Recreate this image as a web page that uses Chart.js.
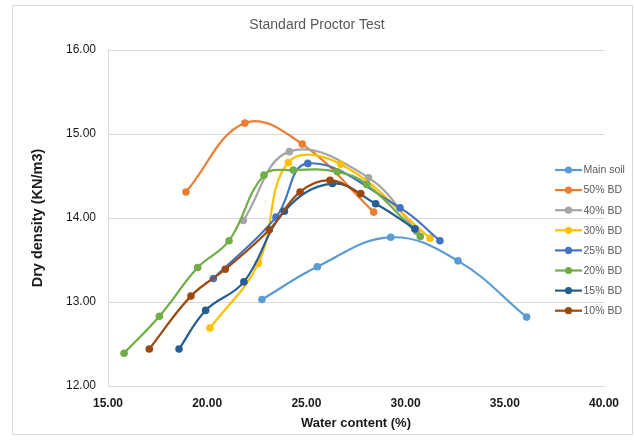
<!DOCTYPE html>
<html>
<head>
<meta charset="utf-8">
<script src="https://cdn.jsdelivr.net/npm/chart.js@4"></script>
<style>
  html, body { margin: 0; padding: 0; background: #ffffff; }
  #wrap { width: 635px; height: 441px; position: relative; }
</style>
</head>
<body>
<div id="wrap"><canvas id="c" width="635" height="441"></canvas></div>
<script>
// ---- Data ----
const seriesNames = ['Main soil', '50% BD', '40% BD', '30% BD', '25% BD', '20% BD', '15% BD', '10% BD'];

const mainSoilX = [22.76, 25.55, 29.25, 32.64, 36.10];
const mainSoilY = [13.03, 13.42, 13.77, 13.49, 12.82];

const bd50X = [18.93, 21.90, 24.79, 28.39];
const bd50Y = [14.31, 15.13, 14.88, 14.07];

const bd40X = [21.82, 24.14, 28.13, 30.56];
const bd40Y = [13.97, 14.79, 14.48, 13.84];

const bd30X = [20.14, 22.58, 24.09, 26.73, 31.23];
const bd30Y = [12.69, 13.46, 14.66, 14.64, 13.76];

const bd25X = [20.31, 23.47, 25.07, 29.72, 31.73];
const bd25Y = [13.28, 14.01, 14.65, 14.12, 13.73];

const bd20X = [15.81, 17.59, 19.52, 21.10, 22.86, 24.34, 26.56, 28.04, 30.74];
const bd20Y = [12.39, 12.83, 13.41, 13.73, 14.51, 14.57, 14.55, 14.40, 13.78];

const bd15X = [18.58, 19.92, 21.85, 23.89, 26.31, 28.49, 30.47];
const bd15Y = [12.44, 12.90, 13.24, 14.08, 14.41, 14.17, 13.87];

const bd10X = [17.08, 19.18, 20.91, 23.13, 24.68, 26.19, 27.74];
const bd10Y = [12.44, 13.07, 13.39, 13.86, 14.31, 14.45, 14.29];

const xTickLabels = ['15.00', '20.00', '25.00', '30.00', '35.00', '40.00'];
const yTickLabels = ['12.00', '13.00', '14.00', '15.00', '16.00'];

const chartTitle = 'Standard Proctor Test';
const xAxisTitle = 'Water content (%)';
const yAxisTitle = 'Dry density (KN/m3)';

// ---- Styling ----
const colors = ['#5B9BD5', '#ED7D31', '#A5A5A5', '#FFC000', '#4472C4', '#70AD47', '#255E91', '#9E480E'];
const xs = [mainSoilX, bd50X, bd40X, bd30X, bd25X, bd20X, bd15X, bd10X];
const ys = [mainSoilY, bd50Y, bd40Y, bd30Y, bd25Y, bd20Y, bd15Y, bd10Y];
const FONT = "'Liberation Sans', Arial, sans-serif";

const datasets = seriesNames.map((name, i) => ({
  label: name,
  data: xs[i].map((x, j) => ({ x: x, y: ys[i][j] })),
  showLine: true,
  borderColor: colors[i],
  backgroundColor: colors[i],
  pointBackgroundColor: colors[i],
  pointBorderColor: colors[i],
  borderWidth: 2.2,
  pointRadius: 3.8,
  pointBorderWidth: 0,
  tension: 0.4,
  order: seriesNames.length - i
}));

const decorPlugin = {
  id: 'decor',
  beforeDraw(chart) {
    const ctx = chart.ctx;
    ctx.save();
    ctx.fillStyle = '#ffffff';
    ctx.fillRect(0, 0, chart.width, chart.height);
    ctx.strokeStyle = '#D9D9D9';
    ctx.lineWidth = 1;
    ctx.strokeRect(12.5, 5.5, 620, 429);
    ctx.restore();
  },
  afterDraw(chart) {
    const ctx = chart.ctx;
    ctx.save();
    // title
    ctx.fillStyle = '#595959';
    ctx.font = '14px ' + FONT;
    ctx.textAlign = 'center';
    ctx.textBaseline = 'middle';
    ctx.fillText(chartTitle, 317, 25);
    // legend
    const lx = 555, ly = 170, step = 20.1;
    ctx.font = '10.5px ' + FONT;
    ctx.textAlign = 'left';
    seriesNames.forEach((name, i) => {
      const y = ly + i * step;
      ctx.strokeStyle = colors[i];
      ctx.lineWidth = 2.2;
      ctx.beginPath();
      ctx.moveTo(lx, y);
      ctx.lineTo(lx + 27, y);
      ctx.stroke();
      ctx.fillStyle = colors[i];
      ctx.beginPath();
      ctx.arc(lx + 13.5, y, 3.6, 0, Math.PI * 2);
      ctx.fill();
      ctx.fillStyle = '#595959';
      ctx.fillText(name, lx + 28.5, y + 0.5);
    });
    ctx.restore();
  }
};

new Chart(document.getElementById('c'), {
  type: 'scatter',
  data: { datasets: datasets },
  plugins: [decorPlugin],
  options: {
    responsive: false,
    animation: false,
    devicePixelRatio: 1,
    layout: { padding: { left: 0, right: 31, top: 50, bottom: 0 } },
    plugins: {
      legend: { display: false },
      title: { display: false },
      tooltip: { enabled: false }
    },
    scales: {
      x: {
        type: 'linear',
        min: 15, max: 40,
        ticks: {
          stepSize: 5,
          autoSkip: false,
          maxRotation: 0,
          padding: 10,
          color: '#1a1a1a',
          font: { family: FONT, size: 12, weight: 'bold' },
          callback: (v, i) => xTickLabels[i]
        },
        grid: { display: false, drawTicks: false },
        border: { display: true, color: '#D9D9D9', width: 1 },
        title: {
          display: true,
          text: xAxisTitle,
          color: '#1a1a1a',
          font: { family: FONT, size: 13, weight: 'bold' },
          padding: { top: 0, bottom: 10 }
        },
        afterFit(s) { s.height = 55; }
      },
      y: {
        type: 'linear',
        min: 12, max: 16,
        ticks: {
          stepSize: 1,
          padding: 12,
          color: '#1a1a1a',
          font: { family: FONT, size: 12 },
          callback: (v, i) => yTickLabels[i]
        },
        grid: { color: '#D9D9D9', drawTicks: false, lineWidth: 1 },
        border: { display: true, color: '#D9D9D9', width: 1 },
        title: {
          display: true,
          text: yAxisTitle,
          color: '#1a1a1a',
          font: { family: FONT, size: 14.5, weight: 'bold' },
          padding: { top: 29, bottom: 0 }
        },
        afterFit(s) { s.width = 108; }
      }
    }
  }
});
</script>
</body>
</html>
